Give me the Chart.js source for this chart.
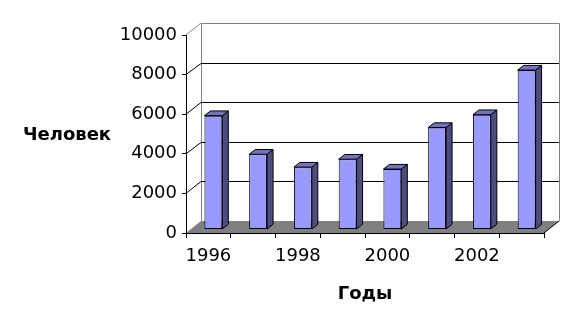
<!DOCTYPE html>
<html lang="ru">

<head>
    <meta charset="UTF-8">
    <title>Человек по годам</title>
    <script src="https://cdn.jsdelivr.net/npm/chart.js"></script>
    <style>
        body { margin: 0; background: #fff; }
    </style>
</head>

<body>
    <canvas id="peopleChart" width="577" height="331"></canvas>

    <script>
        // данные
        const years = ['1996', '1997', '1998', '1999', '2000', '2001', '2002', '2003'];
        const people = [5750, 3800, 3150, 3550, 3050, 5150, 5800, 8050];
        const yTicks = [0, 2000, 4000, 6000, 8000, 10000];

        // смещения для псевдо-3D
        const WALL_DX = 15, WALL_DY = 12;   // задняя стенка
        const BAR_DX = 5, BAR_DY = 3.5;     // передняя грань столбика
        const SIDE_DX = 6, SIDE_DY = 4.7;   // глубина столбика

        const fontFamily = 'DejaVu Sans';

        const box3d = {
            id: 'box3d',
            beforeDraw(chart) {
                const { ctx, chartArea, scales } = chart;
                const x0 = chartArea.left, x1 = chartArea.right;
                const yb0 = scales.y.getPixelForValue(0);
                const top = scales.y.getPixelForValue(yTicks[yTicks.length - 1]);
                ctx.save();
                ctx.lineWidth = 1;
                // пол
                ctx.fillStyle = '#808080';
                ctx.beginPath();
                ctx.moveTo(x0, yb0);
                ctx.lineTo(x1, yb0);
                ctx.lineTo(x1 + WALL_DX, yb0 - WALL_DY);
                ctx.lineTo(x0 + WALL_DX, yb0 - WALL_DY);
                ctx.closePath();
                ctx.fill();
                // края стенки
                ctx.strokeStyle = '#808080';
                ctx.beginPath();
                ctx.moveTo(x0 + WALL_DX + 0.5, yb0 - WALL_DY);
                ctx.lineTo(x0 + WALL_DX + 0.5, top - WALL_DY + 0.5);
                ctx.lineTo(x1 + WALL_DX + 0.5, top - WALL_DY + 0.5);
                ctx.lineTo(x1 + WALL_DX + 0.5, yb0 - WALL_DY);
                ctx.moveTo(x0, top);
                ctx.lineTo(x0 + WALL_DX, top - WALL_DY);
                ctx.stroke();
                // линии сетки на задней стенке и боковой
                ctx.strokeStyle = '#000';
                ctx.beginPath();
                yTicks.forEach(v => {
                    if (v === 0 || v === yTicks[yTicks.length - 1]) return;
                    const yf = scales.y.getPixelForValue(v);
                    const yb = Math.round(yf - WALL_DY) + 0.5;
                    ctx.moveTo(x0, yf);
                    ctx.lineTo(x0 + WALL_DX, yb);
                    ctx.lineTo(x1 + WALL_DX, yb);
                });
                ctx.moveTo(x1, yb0);
                ctx.lineTo(x1 + WALL_DX, yb0 - WALL_DY);
                ctx.stroke();
                ctx.restore();
            },
            beforeDatasetsDraw(chart) {
                chart.ctx.save();
                chart.ctx.translate(BAR_DX, -BAR_DY);
            },
            afterDatasetsDraw(chart) {
                const ctx = chart.ctx;
                const meta = chart.getDatasetMeta(0);
                ctx.lineWidth = 1;
                ctx.strokeStyle = '#000';
                meta.data.forEach(el => {
                    const { x, y, width, base } = el.getProps(['x', 'y', 'width', 'base'], true);
                    const l = x - width / 2, r = x + width / 2;
                    // правая грань
                    ctx.fillStyle = '#4c4c80';
                    ctx.beginPath();
                    ctx.moveTo(r, y);
                    ctx.lineTo(r + SIDE_DX, y - SIDE_DY);
                    ctx.lineTo(r + SIDE_DX, base - SIDE_DY);
                    ctx.lineTo(r, base);
                    ctx.closePath();
                    ctx.fill();
                    ctx.stroke();
                    // верх
                    ctx.fillStyle = '#7373c0';
                    ctx.beginPath();
                    ctx.moveTo(l, y);
                    ctx.lineTo(l + SIDE_DX, y - SIDE_DY);
                    ctx.lineTo(r + SIDE_DX, y - SIDE_DY);
                    ctx.lineTo(r, y);
                    ctx.closePath();
                    ctx.fill();
                    ctx.stroke();
                });
                ctx.restore();
            },
            afterDraw(chart) {
                const ctx = chart.ctx;
                ctx.save();
                ctx.fillStyle = '#000';
                ctx.font = 'bold 18px ' + fontFamily;
                ctx.textAlign = 'center';
                ctx.textBaseline = 'middle';
                ctx.fillText('Человек', 67, 135);
                ctx.restore();
            }
        };

        const ctx = document.getElementById('peopleChart').getContext('2d');
        new Chart(ctx, {
            type: 'bar',
            data: {
                labels: years,
                datasets: [{
                    data: people,
                    backgroundColor: '#9999ff',
                    borderColor: '#000',
                    borderWidth: 1,
                    borderSkipped: false,
                    barPercentage: 0.4,
                    categoryPercentage: 1,
                    clip: false
                }]
            },
            options: {
                responsive: false,
                animation: false,
                layout: { padding: { top: 35, right: 33, left: 0, bottom: 0 } },
                plugins: {
                    legend: { display: false },
                    tooltip: { enabled: false }
                },
                scales: {
                    x: {
                        grid: { drawOnChartArea: false, drawTicks: true, tickLength: 5, color: '#000', offset: true },
                        border: { display: true, color: '#000' },
                        ticks: {
                            autoSkip: false,
                            maxRotation: 0,
                            padding: 8,
                            color: '#000',
                            font: { family: fontFamily, size: 18 },
                            callback: (v, i) => (i % 2 ? '' : years[i])
                        },
                        title: {
                            display: true,
                            text: 'Годы',
                            color: '#000',
                            font: { family: fontFamily, size: 18, weight: 'bold' },
                            padding: { top: 0, bottom: 26 }
                        },
                        afterFit: s => { s.height = 98; }
                    },
                    y: {
                        min: 0,
                        max: 10000,
                        grid: { drawOnChartArea: false, drawTicks: true, tickLength: 4, color: '#000' },
                        border: { display: true, color: '#000' },
                        ticks: {
                            stepSize: 2000,
                            padding: 5,
                            color: '#000',
                            font: { family: fontFamily, size: 18 },
                            callback: v => String(v)
                        },
                        afterFit: s => { s.width = 186; }
                    }
                }
            },
            plugins: [box3d]
        });
    </script>
</body>

</html>
